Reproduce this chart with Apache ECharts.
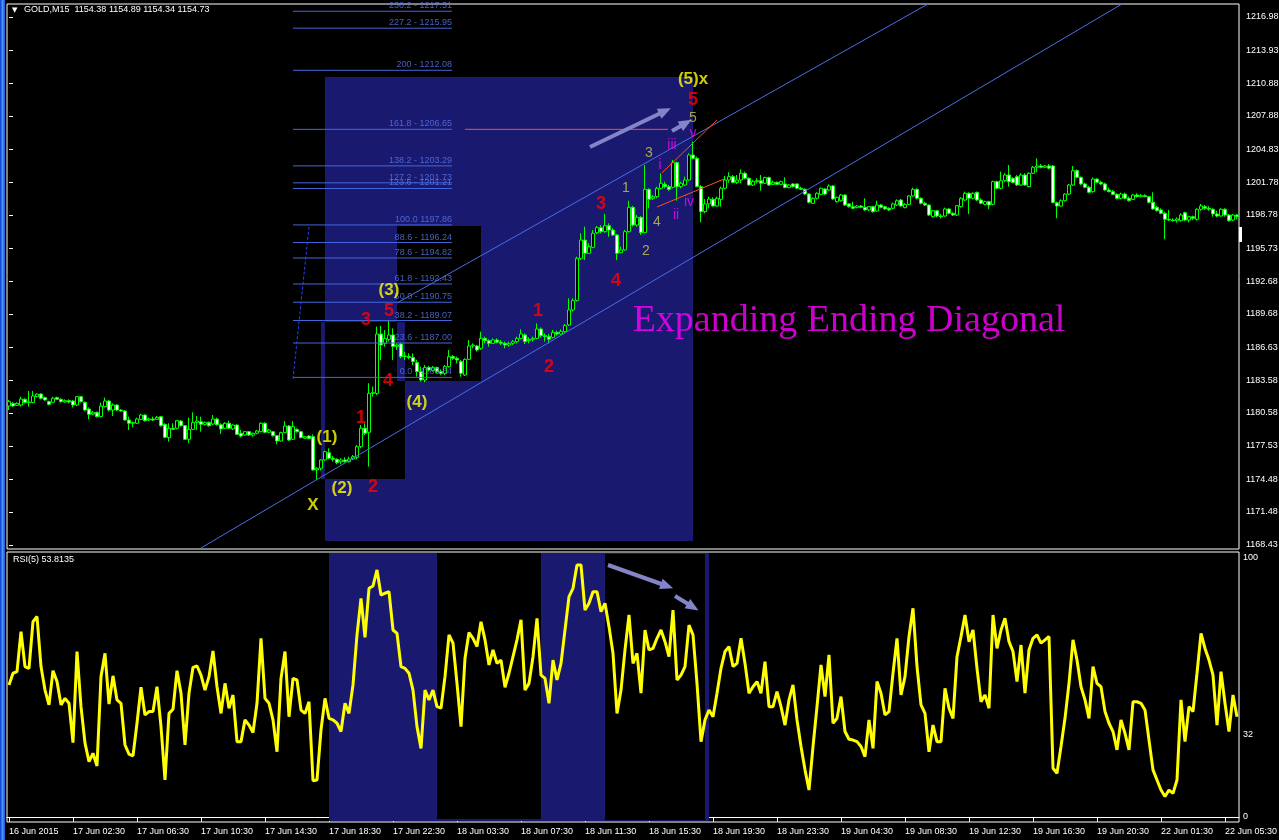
<!DOCTYPE html>
<html><head><meta charset="utf-8">
<script src="https://cdn.jsdelivr.net/npm/echarts@6.0.0/dist/echarts.min.js"></script>
<style>html,body{margin:0;padding:0;background:#000;}#c{width:1279px;height:840px;}</style>
</head><body><div id="c"></div>
<script>
// ---- tick labels ----
const timeLabels = ['16 Jun 2015','17 Jun 02:30','17 Jun 06:30','17 Jun 10:30','17 Jun 14:30','17 Jun 18:30','17 Jun 22:30','18 Jun 03:30','18 Jun 07:30','18 Jun 11:30','18 Jun 15:30','18 Jun 19:30','18 Jun 23:30','19 Jun 04:30','19 Jun 08:30','19 Jun 12:30','19 Jun 16:30','19 Jun 20:30','22 Jun 01:30','22 Jun 05:30'];
const priceTicks = [1216.98,1213.93,1210.88,1207.88,1204.83,1201.78,1198.78,1195.73,1192.68,1189.68,1186.63,1183.58,1180.58,1177.53,1174.48,1171.48,1168.43];
const rsiTicks = [0,32,100];

// ---- GOLD M15 candles ----
const opens = [
1181.21,1181.45,1181.27,1181.30,1181.82,1181.52,1181.52,1182.07,1182.31,1181.98,
1181.61,1181.55,1181.98,1181.82,1181.58,1181.70,1181.67,1181.30,1182.07,1181.55,
1180.93,1180.47,1180.63,1180.23,1181.15,1181.67,1180.84,1181.30,1180.84,1180.75,
1179.92,1179.62,1179.62,1179.98,1180.38,1179.92,1180.01,1179.98,1180.23,1179.52,
1178.30,1179.16,1179.16,1179.83,1179.40,1178.15,1179.06,1179.68,1179.77,1179.52,
1179.71,1179.55,1180.01,1179.49,1179.16,1179.62,1179.10,1179.46,1178.70,1178.54,
1178.85,1178.54,1178.70,1178.85,1179.62,1178.79,1178.85,1178.48,1177.99,1178.76,
1179.37,1178.15,1179.06,1178.85,1178.24,1178.45,1178.39,1175.33,1175.48,1176.25,
1176.92,1176.40,1176.31,1176.09,1176.25,1176.09,1176.34,1176.49,1177.47,1179.16,
1178.79,1182.37,1182.37,1187.83,1186.97,1187.34,1187.74,1186.67,1186.91,1185.81,
1185.75,1185.66,1185.20,1184.37,1183.60,1184.74,1184.46,1184.74,1184.37,1184.21,
1184.83,1185.75,1185.59,1185.29,1184.06,1185.50,1186.73,1186.73,1186.51,1187.43,
1187.22,1186.97,1187.28,1187.07,1186.97,1186.82,1186.97,1187.13,1187.43,1187.74,
1187.22,1187.34,1187.43,1188.29,1187.68,1187.59,1187.52,1187.98,1187.83,1188.05,
1188.66,1190.04,1190.90,1194.79,1196.47,1195.25,1195.80,1197.15,1197.61,1197.24,
1197.79,1197.39,1196.93,1195.31,1195.56,1197.24,1199.48,1197.85,1198.56,1197.15,
1201.13,1200.31,1200.46,1201.23,1201.59,1201.38,1201.32,1203.59,1201.38,1201.53,
1201.99,1204.29,1203.98,1201.38,1199.08,1199.79,
1200.21,1199.60,1200.21,1201.23,
1201.99,1202.30,1201.75,1201.99,1202.61,1202.15,1201.53,1201.84,1201.93,1201.69,
1202.21,1201.59,1201.78,1201.59,1201.63,1201.29,1201.63,1201.63,1201.23,1201.13,
1200.70,1199.85,1200.31,1200.67,1201.17,1201.07,1201.44,1200.00,1200.09,1200.61,
1199.79,1199.54,1199.45,1199.60,1199.48,1199.24,1199.54,1199.14,1199.69,1199.54,
1199.39,1199.39,1199.69,1200.15,1199.45,1199.75,1200.52,1201.13,1200.31,1199.85,
1199.69,1198.62,1199.17,1198.68,1198.68,1199.33,1198.93,1198.77,1199.54,1200.15,
1200.77,1200.31,1200.86,1200.15,1199.75,1200.00,1199.75,1201.84,1201.23,1201.93,
1202.45,1202.15,1202.30,1201.53,1202.45,1201.38,1202.61,1203.16,1203.28,1203.16,
1203.28,1203.28,1199.91,1199.60,1200.09,1200.70,1201.53,1202.85,1202.24,1201.63,
1201.32,1200.92,1202.08,1201.78,1201.63,1201.07,1200.92,1200.67,1200.31,1200.70,
1200.31,1200.21,1200.61,1200.46,1200.55,1200.46,1199.94,1199.48,1199.24,1198.93,
1198.38,1198.31,1198.25,1198.25,1198.99,1198.31,1198.62,1198.38,1199.30,1199.54,
1199.39,1199.30,1198.87,1198.68,1199.30,1198.77,1198.31,1198.77];
const closes = [
1181.61,1181.21,1181.45,1181.85,1181.52,1181.58,1182.13,1182.31,1181.92,1181.76,
1181.36,1181.92,1181.82,1181.61,1181.70,1181.58,1181.30,1182.07,1181.61,1180.84,
1180.44,1180.63,1180.23,1181.21,1181.67,1180.84,1181.30,1180.84,1180.75,1179.92,
1179.62,1179.71,1180.01,1180.38,1179.86,1180.01,1179.92,1180.17,1179.40,1178.33,
1179.16,1179.06,1179.86,1179.40,1178.15,1179.06,1179.71,1179.83,1179.52,1179.71,
1179.40,1180.01,1179.49,1179.10,1179.62,1179.16,1179.46,1178.60,1178.45,1178.85,
1178.54,1178.70,1178.91,1179.62,1178.79,1179.00,1178.48,1177.99,1178.76,1179.37,
1178.08,1179.31,1178.85,1178.30,1178.39,1178.21,1175.33,1175.48,1176.25,1177.01,
1176.40,1176.31,1176.00,1176.25,1176.09,1176.34,1176.55,1177.47,1179.16,1178.70,
1182.37,1182.44,1187.83,1186.82,1187.43,1187.74,1186.67,1186.82,1185.75,1185.75,
1185.66,1185.29,1184.37,1183.60,1184.74,1184.52,1184.74,1184.37,1184.21,1184.83,
1185.75,1185.59,1185.44,1184.21,1185.50,1186.73,1186.82,1186.36,1187.43,1187.22,
1186.97,1187.28,1187.07,1186.97,1186.82,1186.97,1187.13,1187.43,1187.83,1187.13,
1187.34,1187.43,1188.29,1187.68,1187.59,1187.34,1187.98,1187.83,1188.05,1188.60,
1190.04,1190.90,1194.79,1196.47,1195.25,1195.86,1197.09,1197.61,1197.24,1197.79,
1197.39,1196.93,1195.25,1195.56,1197.24,1199.48,1197.85,1198.56,1197.15,1201.13,
1200.21,1200.46,1201.23,1201.69,1201.38,1201.13,1203.59,1201.38,1201.69,1201.99,
1204.29,1203.98,1201.38,1199.08,1199.79,1200.24,
1199.60,1200.31,1201.23,1201.99,
1202.30,1201.75,1201.99,1202.61,1202.15,1201.53,1201.84,1201.93,1201.69,1202.21,
1201.53,1201.78,1201.59,1201.84,1201.29,1201.53,1201.38,1201.23,1201.13,1200.70,
1199.94,1200.31,1200.77,1201.23,1200.70,1201.44,1200.25,1200.40,1200.61,1199.69,
1199.54,1199.39,1199.60,1199.48,1199.24,1199.54,1199.08,1199.69,1199.48,1199.33,
1199.24,1199.79,1200.09,1199.60,1199.75,1200.52,1201.13,1200.31,1199.85,1199.69,
1198.77,1199.17,1198.68,1198.62,1199.33,1198.93,1198.77,1199.63,1200.31,1200.77,
1200.31,1200.77,1200.15,1199.85,1200.00,1199.69,1201.84,1201.23,1201.93,1202.45,
1201.84,1201.75,1201.53,1202.45,1201.53,1202.61,1203.16,1203.28,1203.16,1203.28,
1203.07,1199.91,1199.60,1200.09,1200.70,1201.53,1202.85,1202.24,1201.63,1201.32,
1200.86,1202.08,1201.78,1201.63,1201.07,1200.92,1200.67,1200.31,1200.70,1200.31,
1200.09,1200.61,1200.46,1200.55,1200.46,1199.94,1199.33,1199.17,1198.93,1198.38,
1198.31,1198.25,1198.41,1198.77,1198.31,1198.62,1198.47,1199.30,1199.60,1199.39,
1199.30,1198.87,1198.68,1199.30,1198.77,1198.25,1198.77,1198.62];
const lows = [
1180.84,1181.15,1181.21,1181.15,1181.45,1181.15,1181.45,1181.98,1181.82,1181.70,
1181.27,1181.52,1181.76,1181.52,1181.52,1181.45,1181.09,1181.21,1181.52,1180.75,
1179.98,1180.38,1180.14,1180.17,1181.09,1180.69,1180.29,1180.75,1180.69,1179.86,
1179.00,1179.25,1179.55,1179.92,1179.77,1179.83,1179.83,1179.92,1179.31,1178.24,
1177.93,1179.00,1179.06,1179.31,1178.08,1177.78,1179.00,1179.00,1178.85,1179.40,
1179.31,1179.46,1179.40,1178.64,1179.10,1179.10,1179.00,1178.54,1178.33,1178.48,
1178.45,1178.39,1178.60,1178.79,1178.70,1178.70,1178.39,1177.69,1177.93,1178.70,
1177.99,1178.08,1178.76,1178.24,1178.21,1178.15,1175.27,1174.41,1175.27,1176.15,
1176.31,1176.09,1175.85,1175.85,1176.00,1176.00,1176.25,1176.31,1177.32,1178.54,
1175.63,1182.07,1182.22,1185.44,1186.67,1187.13,1185.44,1186.36,1185.59,1185.44,
1185.50,1184.98,1183.91,1183.45,1183.39,1184.37,1184.37,1184.21,1184.06,1184.06,
1184.74,1185.44,1185.13,1183.91,1183.97,1185.44,1186.51,1186.21,1186.36,1186.97,
1186.67,1186.91,1186.97,1186.82,1186.51,1186.67,1186.82,1186.97,1187.34,1186.91,
1186.97,1187.13,1187.34,1187.52,1187.13,1186.97,1187.43,1187.68,1187.74,1187.95,
1188.57,1189.89,1190.81,1194.63,1194.63,1195.19,1195.71,1197.03,1197.09,1197.15,
1196.78,1196.84,1194.63,1195.25,1195.49,1197.15,1197.70,1197.70,1196.93,1197.09,
1199.39,1200.15,1200.31,1201.13,1201.23,1201.01,1201.23,1200.09,1201.23,1201.44,
1201.93,1203.89,1201.32,1198.10,1198.93,1199.39,
1199.54,1199.54,1199.54,1201.13,
1201.75,1201.69,1201.63,1201.69,1202.05,1201.47,1201.44,1201.69,1201.01,1201.63,
1201.44,1201.53,1201.53,1201.53,1201.23,1201.23,1201.29,1201.17,1201.07,1200.61,
1199.85,1199.79,1200.21,1200.61,1200.61,1201.01,1200.15,1199.91,1200.00,1199.60,
1199.45,1199.30,1199.39,1199.39,1199.17,1199.14,1198.99,1199.08,1199.39,1199.24,
1199.14,1199.30,1199.60,1199.54,1199.39,1199.69,1200.46,1200.21,1199.75,1199.60,
1198.68,1198.53,1198.56,1198.47,1198.62,1198.84,1198.68,1198.68,1199.45,1200.06,
1198.87,1200.21,1200.06,1199.75,1199.66,1199.30,1199.66,1201.13,1201.13,1201.78,
1201.38,1201.69,1201.44,1201.44,1201.47,1201.32,1202.54,1202.70,1203.07,1203.07,
1202.97,1199.85,1198.47,1199.54,1200.00,1200.61,1201.47,1202.15,1201.53,1201.23,
1200.77,1200.83,1201.69,1201.53,1201.01,1200.86,1200.61,1200.21,1200.21,1200.21,
1200.00,1200.15,1200.37,1200.40,1200.40,1199.85,1199.24,1199.08,1198.84,1196.54,
1198.22,1198.16,1198.07,1198.16,1198.22,1198.10,1198.31,1198.25,1199.17,1199.24,
1199.17,1198.62,1198.56,1198.62,1198.62,1198.16,1198.22,1198.38];
const highs = [
1181.76,1181.55,1181.55,1182.07,1181.92,1182.59,1182.59,1182.37,1182.37,1182.07,
1181.70,1182.07,1182.07,1181.92,1181.82,1181.82,1181.76,1182.13,1182.13,1181.61,
1181.09,1180.75,1180.69,1181.52,1181.98,1181.76,1181.45,1181.36,1180.93,1180.84,
1180.23,1179.77,1180.14,1180.47,1180.44,1180.14,1180.23,1180.29,1180.29,1179.62,
1179.62,1179.62,1179.92,1179.92,1179.46,1180.14,1180.63,1180.29,1180.23,1179.77,
1179.77,1180.38,1180.14,1179.62,1179.71,1179.86,1179.52,1179.52,1179.00,1178.91,
1178.91,1178.76,1179.00,1179.71,1179.71,1179.10,1178.91,1178.54,1178.85,1179.83,
1179.46,1179.83,1179.16,1178.91,1178.45,1178.54,1178.60,1175.57,1176.31,1177.10,
1177.32,1176.61,1176.40,1176.40,1176.49,1176.55,1176.71,1177.62,1179.46,1179.62,
1183.30,1182.99,1188.51,1188.57,1188.20,1189.06,1188.35,1186.97,1187.03,1186.21,
1186.05,1186.05,1185.44,1184.83,1184.98,1184.89,1184.89,1184.83,1184.58,1184.98,
1186.36,1185.90,1185.75,1185.44,1185.59,1187.28,1186.97,1186.82,1188.05,1187.59,
1187.34,1187.43,1187.43,1187.28,1187.13,1187.13,1187.28,1187.59,1188.26,1187.89,
1187.52,1187.59,1188.81,1188.44,1187.89,1187.83,1188.20,1188.14,1188.26,1188.75,
1191.11,1191.11,1194.94,1197.09,1197.70,1196.17,1197.39,1197.76,1197.85,1198.87,
1198.01,1197.55,1197.03,1195.86,1197.39,1200.09,1199.60,1198.77,1198.68,1203.37,
1201.23,1200.61,1201.38,1202.60,1201.84,1201.53,1203.83,1203.68,1201.84,1202.30,
1204.44,1205.52,1204.14,1201.53,1200.24,1200.46,
1200.40,1200.46,1201.38,1202.36,
1202.70,1202.45,1202.45,1202.97,1202.76,1202.24,1201.99,1202.15,1202.45,1202.30,
1202.30,1201.93,1201.84,1201.93,1202.24,1201.63,1201.69,1201.69,1201.38,1201.23,
1200.77,1200.40,1200.86,1201.29,1201.23,1201.59,1201.53,1200.46,1200.70,1200.67,
1199.85,1200.00,1199.69,1199.69,1200.31,1199.60,1199.60,1200.09,1199.79,1199.63,
1199.48,1199.91,1200.21,1200.25,1199.85,1200.61,1201.29,1201.23,1200.40,1200.00,
1199.75,1199.24,1199.24,1198.87,1199.45,1199.39,1199.02,1199.69,1200.40,1200.92,
1200.86,1200.86,1200.92,1200.31,1200.09,1200.09,1201.93,1201.93,1202.76,1202.61,
1203.37,1202.24,1202.45,1202.61,1202.61,1202.70,1203.28,1203.98,1203.46,1203.37,
1203.46,1203.37,1200.00,1200.21,1200.77,1201.63,1203.28,1202.97,1202.30,1201.75,
1201.44,1202.21,1202.15,1201.93,1201.75,1201.29,1201.07,1200.77,1200.83,1200.83,
1200.46,1200.70,1200.77,1200.70,1200.67,1200.52,1200.86,1199.60,1199.39,1199.08,
1199.24,1198.47,1198.56,1198.93,1199.08,1198.68,1198.71,1199.39,1199.79,1199.69,
1199.60,1199.39,1199.17,1199.39,1199.39,1198.87,1198.87,1198.87];

// ---- RSI(5) ----
const rsi = [
51.0,55.5,56.1,71.6,58.1,57.4,75.4,77.4,58.1,49.0,
43.3,56.5,52.3,43.3,45.8,43.9,28.7,63.9,42.6,28.5,
21.4,24.6,19.7,54.2,63.2,43.6,54.5,45.2,43.9,27.8,
24.3,23.6,36.2,50.1,39.4,40.7,40.7,50.3,34.9,14.3,
40.0,41.6,56.5,47.8,27.8,47.8,57.8,58.3,54.8,49.0,
54.2,64.1,50.3,40.0,51.6,42.0,47.1,29.1,29.1,37.5,
35.5,32.6,43.9,69.0,45.8,43.9,37.5,25.2,53.5,63.9,
38.7,53.5,52.9,41.3,40.0,44.5,14.0,14.3,33.6,45.8,
38.1,37.5,36.2,33.0,43.9,40.0,51.0,70.3,84.4,69.4,
88.3,89.2,95.4,85.7,86.4,87.0,72.2,70.9,58.1,57.4,
55.5,49.0,34.9,26.5,49.0,45.2,49.0,42.6,42.0,54.2,
70.3,67.1,51.6,34.9,61.3,71.2,69.0,65.8,75.4,68.4,
58.7,64.5,59.3,60.6,50.1,55.5,61.9,68.4,76.1,49.0,
51.6,61.9,76.7,54.8,53.5,43.9,60.6,52.9,59.3,72.2,
85.1,88.3,97.3,97.3,79.9,82.5,87.0,87.0,79.3,82.5,
73.5,63.2,40.0,49.0,64.5,78.0,59.3,63.2,47.8,72.2,
64.5,65.1,69.0,72.2,67.7,61.9,79.9,52.9,54.8,58.1,
74.1,70.3,51.6,29.1,37.5,41.3,38.7,47.8,57.4,63.9,
65.8,58.1,59.3,69.0,59.3,47.8,50.3,52.3,47.8,60.0,
42.6,42.6,48.4,42.6,35.5,45.2,51.0,37.5,27.2,18.2,
10.4,27.2,42.6,58.7,46.5,62.6,36.2,38.1,46.5,33.0,
30.0,29.7,29.1,27.2,23.3,37.5,26.5,52.3,47.8,39.4,
40.7,55.5,69.0,47.1,54.2,69.7,80.6,58.1,43.3,40.0,
25.2,35.5,29.1,29.1,49.7,42.0,38.1,61.9,69.7,78.0,
67.7,72.2,57.4,44.5,47.1,42.0,78.0,65.1,72.2,76.7,
67.7,63.9,52.3,66.4,47.8,64.5,69.0,70.3,67.1,68.4,
69.7,18.8,16.9,27.2,38.1,51.6,68.4,60.6,50.3,45.2,
38.1,58.1,51.6,50.3,40.7,36.2,33.0,25.9,37.5,32.3,
25.9,44.5,44.5,43.9,41.3,29.7,18.2,14.3,10.4,7.9,
10.4,9.1,14.3,45.2,29.1,42.6,40.7,55.5,70.9,65.1,
60.6,54.8,35.5,56.1,43.9,33.0,47.1,38.7];

// ---- Fibonacci levels ----
const fibNames = ['238.2 - 1217.51','227.2 - 1215.95','200 - 1212.08','161.8 - 1206.65','138.2 - 1203.29','127.2 - 1201.73','123.6 - 1201.21','100.0 1197.86','88.6 - 1196.24','78.6 - 1194.82','61.8 - 1192.43','50.0 - 1190.75','38.2 - 1189.07','23.6 - 1187.00','0.0 - 1183.84'];
const fibPrices = [1217.51,1215.95,1212.08,1206.65,1203.29,1201.73,1201.21,1197.86,1196.24,1194.82,1192.43,1190.75,1189.07,1187.00,1183.84];
const fibSpan = [71, 110.75]; // bar index range of the fib object

// ---- annotations (bar index, price / rsi value) ----
const priceZones = [ // x0, y0, x1, y1, colour idx
  [79,1211.46,171,1168.80,0],[78,1188.93,99,1174.50,1],[97,1197.76,118,1183.51,1],
  [97,1188.93,99,1183.51,0],[78,1188.93,79,1174.50,0]];
const rsiZones = [[80,101.9,175,-1.5,0],[107,101.9,133,-0.77,1],[149,101.5,174,-1.3,1]];
const channelLines = [[48,1168.15,278.25,1218.18],[97,1190.68,229.75,1218.18]];
const diagLines = [[163.25,1202.65,177,1207.51],[162,1199.51,178.75,1202.08],[114,1206.65,164.75,1206.65]];
const dottedLine = [71,1183.69,75,1197.67];
const priceArrows = [[145.25,1205.03,164,1208.34],[165.75,1206.50,169.25,1207.23]];
const rsiArrows = [[149.75,97.3,164.5,89.19],[166.5,85.33,171,81.08]];
const yellowMarks = [['X',76,1172.11],['(1)',79.5,1178.36],['(2)',83.25,1173.67],['(3)',95,1191.88],['(4)',102,1181.58],['(5)x',171,1211.28]];
const redMarks = [['1',88,1180.11],['2',91,1173.76],['3',89.25,1189.12],['4',94.75,1183.51],['5',95,1189.95],
  ['1',132.25,1189.95],['2',135,1184.80],['3',148,1199.79],['4',151.75,1192.71],['5',171,1209.35]];
const oliveMarks = [['1',154.25,1201.26],['2',159.25,1195.46],['3',160,1204.47],['4',162,1198.13],['5',171,1207.69]];
const romanMarks = [['i',162.75,1203.37],['ii',166.75,1198.77],['iii',165.75,1205.21],['iv',170,1199.97],['v',171,1206.31]];
const titleMark = [['Expanding Ending Diagonal',210,1189.03]];

const priceMin = 1168.06, priceMax = 1218.175;
const rsiMin = -1.93, rsiMax = 102.32;

// ---------------------------------------------------------------
const N = closes.length;
const cats = closes.map((_, i) => String(i));
const candleData = opens.map((o, i) => [o, closes[i], lows[i], highs[i]]);
const zoneColors = ['#191970', '#000000'];
const SANS = '"Liberation Sans", Arial, sans-serif';

function zoneSeries(zones, xi, yi) {
  return {
    type: 'custom', xAxisIndex: xi, yAxisIndex: yi, silent: true, z: 1,
    encode: {x: [0, 2], y: [1, 3]},
    data: zones,
    renderItem: (params, api) => {
      const a = api.coord([api.value(0), api.value(1)]);
      const b = api.coord([api.value(2), api.value(3)]);
      return {type: 'rect',
        shape: {x: Math.min(a[0], b[0]), y: Math.min(a[1], b[1]), width: Math.abs(b[0] - a[0]), height: Math.abs(b[1] - a[1])},
        style: {fill: zoneColors[api.value(4)]}};
    }
  };
}
function segSeries(s, style, xi, yi) {
  return {type: 'line', xAxisIndex: xi, yAxisIndex: yi, silent: true, z: 4, symbol: 'none',
    data: [[s[0], s[1]], [s[2], s[3]]], lineStyle: style};
}
function labelSeries(items, style, extra) {
  return Object.assign({
    type: 'scatter', xAxisIndex: 1, yAxisIndex: 0, symbolSize: 0, silent: true, z: 6,
    data: items.map(d => ({name: d[0], value: [d[1], d[2]]})),
    label: Object.assign({show: true, position: 'inside', formatter: '{b}'}, style)
  }, extra || {});
}
function arrowMarks(arrs) {
  return {silent: true, symbol: ['none', 'triangle'], symbolSize: [11, 13], animation: false,
    label: {show: false}, emphasis: {disabled: true},
    lineStyle: {color: '#8484c8', width: 4, type: 'solid'},
    data: arrs.map(a => [{coord: [a[0], a[1]]}, {coord: [a[2], a[3]]}])};
}

const series = [];
series.push(zoneSeries(priceZones, 1, 0));
series.push(zoneSeries(rsiZones, 3, 1));
fibPrices.forEach(p => series.push(segSeries([fibSpan[0], p, fibSpan[1], p], {color: '#4466dd', width: 1}, 1, 0)));
channelLines.forEach(s => series.push(segSeries(s, {color: '#4a6ee6', width: 1}, 1, 0)));
diagLines.forEach(s => series.push(segSeries(s, {color: '#ff5020', width: 1}, 1, 0)));
series.push(segSeries(dottedLine, {color: '#2a40ff', width: 1, type: [3, 2]}, 1, 0));
series.push({
  type: 'candlestick', xAxisIndex: 0, yAxisIndex: 0, z: 3, barWidth: 3, silent: true,
  data: candleData,
  itemStyle: {color: '#000000', color0: '#ffffff', borderColor: '#00ff00', borderColor0: '#00ff00', borderColorDoji: '#00ff00', borderWidth: 1}
});
series.push({
  type: 'line', xAxisIndex: 2, yAxisIndex: 1, z: 3, silent: true, symbol: 'none',
  data: rsi, lineStyle: {color: '#ffff00', width: 3}
});
series.push(labelSeries(fibNames.map((t, i) => [t, fibSpan[1], fibPrices[i]]),
  {position: 'top', align: 'right', distance: 1, color: '#5a78ee', fontSize: 9, fontFamily: SANS}));
series.push(labelSeries(yellowMarks, {color: '#ffff00', fontSize: 17, fontWeight: 'bold', fontFamily: SANS}));
series.push(labelSeries(redMarks, {color: '#ff0000', fontSize: 18, fontWeight: 'bold', fontFamily: SANS},
  {markLine: arrowMarks(priceArrows)}));
series.push(labelSeries(oliveMarks, {color: '#c8c850', fontSize: 14, fontFamily: SANS}));
series.push(labelSeries(romanMarks, {color: '#ff00ff', fontSize: 14, fontFamily: SANS}));
series.push(labelSeries(titleMark, {color: '#ff00ff', fontSize: 38, fontFamily: '"Liberation Serif", "Times New Roman", serif'}));
series.push({type: 'scatter', xAxisIndex: 3, yAxisIndex: 1, symbolSize: 0, silent: true, z: 6,
  data: [[0, 50]], markLine: arrowMarks(rsiArrows)});

const option = {
  backgroundColor: '#000000',
  animation: false,
  grid: [
    {left: 7, top: 4, width: 1232, height: 545, show: true, borderColor: '#ffffff', borderWidth: 1, backgroundColor: '#000', containLabel: false, outerBoundsMode: 'none'},
    {left: 7, top: 552, width: 1232, height: 270, show: true, borderColor: '#ffffff', borderWidth: 1, backgroundColor: '#000', containLabel: false, outerBoundsMode: 'none'}
  ],
  xAxis: [
    {type: 'category', gridIndex: 0, data: cats, boundaryGap: true, axisLine: {show: false}, axisTick: {show: false}, axisLabel: {show: false}, splitLine: {show: false}},
    {type: 'value', gridIndex: 0, min: -0.5, max: N - 0.5, show: false, splitLine: {show: false}},
    {type: 'category', gridIndex: 1, data: cats, boundaryGap: true,
      axisLine: {show: true, lineStyle: {color: '#ffffff', width: 1}},
      axisTick: {show: true, interval: 15, alignWithLabel: true, length: 5, lineStyle: {color: '#ffffff'}},
      axisLabel: {show: true, interval: 15, color: '#ffffff', fontSize: 9, fontFamily: SANS, align: 'left', margin: 5,
        formatter: (v, i) => (i % 16 === 0 && timeLabels[i / 16]) ? timeLabels[i / 16] : ''},
      splitLine: {show: false}},
    {type: 'value', gridIndex: 1, min: -0.5, max: N - 0.5, show: false, splitLine: {show: false}}
  ],
  yAxis: [
    {type: 'value', gridIndex: 0, position: 'right', min: priceMin, max: priceMax, scale: true,
      axisLine: {show: false}, splitLine: {show: false},
      axisTick: {show: true, length: 4, customValues: priceTicks, lineStyle: {color: '#ffffff'}},
      axisLabel: {show: true, customValues: priceTicks, formatter: v => v.toFixed(2), color: '#ffffff', fontSize: 9, fontFamily: SANS, margin: 7}},
    {type: 'value', gridIndex: 1, position: 'right', min: rsiMin, max: rsiMax,
      axisLine: {show: false}, splitLine: {show: false}, axisTick: {show: false},
      axisLabel: {show: true, customValues: rsiTicks, color: '#ffffff', fontSize: 9, fontFamily: SANS, margin: 4}}
  ],
  graphic: [
    {type: 'rect', silent: true, z: 100, shape: {x: 0, y: 0, width: 5, height: 840},
      style: {fill: new echarts.graphic.LinearGradient(0, 0, 1, 0, [{offset: 0, color: '#0a3cc0'}, {offset: 0.5, color: '#4a90ff'}, {offset: 1, color: '#1a56d8'}])}},
    {type: 'text', silent: true, z: 100, x: 12, y: 7, style: {text: '\u25BC', fill: '#ffffff', font: '7px "DejaVu Sans"'}},
    {type: 'text', silent: true, z: 100, x: 24, y: 5, style: {text: 'GOLD,M15  1154.38 1154.89 1154.34 1154.73', fill: '#ffffff', font: '9px "Liberation Sans"'}},
    {type: 'text', silent: true, z: 100, x: 13, y: 555, style: {text: 'RSI(5) 53.8135', fill: '#ffffff', font: '9px "Liberation Sans"'}},
    {type: 'rect', silent: true, z: 100, shape: {x: 1239, y: 227, width: 3, height: 15}, style: {fill: '#ffffff'}}
  ],
  series: series
};
const chart = echarts.init(document.getElementById('c'));
chart.setOption(option);
</script>
</body></html>
